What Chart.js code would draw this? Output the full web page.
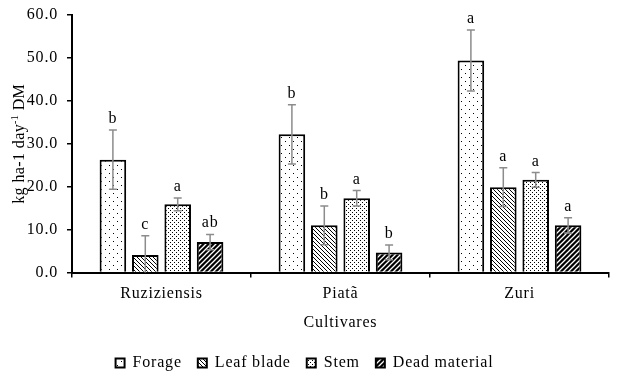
<!DOCTYPE html>
<html>
<head>
<meta charset="utf-8">
<script src="https://cdn.jsdelivr.net/npm/chart.js@4.4.0/dist/chart.umd.min.js"></script>
<style>
  html, body { margin: 0; padding: 0; background: #fff; }
  #wrap { width: 622px; height: 381px; }
</style>
</head>
<body>
<div id="wrap"><canvas id="chart"></canvas></div>
<script>
const cultivars = ['Ruziziensis', 'Piatã', 'Zuri'];
const seriesNames = ['Forage', 'Leaf blade', 'Stem', 'Dead material'];

const forage = [26.3, 32.2, 49.4];
const leafBlade = [4.1, 11.0, 19.9];
const stem = [15.9, 17.3, 21.6];
const deadMaterial = [7.1, 4.7, 11.0];

const forageErr = [6.9, 6.9, 7.1];
const leafBladeErr = [4.5, 4.5, 4.5];
const stemErr = [1.5, 1.8, 1.7];
const deadMaterialErr = [1.8, 1.7, 1.8];

const forageLetters = ['b', 'b', 'a'];
const leafBladeLetters = ['c', 'b', 'a'];
const stemLetters = ['a', 'a', 'a'];
const deadMaterialLetters = ['ab', 'b', 'a'];

const yTicks = [0, 10, 20, 30, 40, 50, 60];

const FONT = '"Liberation Serif", "Times New Roman", serif';
const SPACING = '0.8px';

// fill patterns
function makePattern(size, draw) {
    const c = document.createElement('canvas');
    c.width = size; c.height = size;
    const g = c.getContext('2d');
    draw(g, size);
    return document.getElementById('chart').getContext('2d').createPattern(c, 'repeat');
}

const sparseDots = makePattern(8, (g) => {
    g.fillStyle = '#fff'; g.fillRect(0, 0, 8, 8);
    g.fillStyle = '#000';
    g.fillRect(1, 1, 1, 1);
    g.fillRect(5, 5, 1, 1);
});
const backLines = makePattern(4, (g) => {
    g.fillStyle = '#fff'; g.fillRect(0, 0, 4, 4);
    g.strokeStyle = '#000'; g.lineWidth = 1;
    g.beginPath();
    g.moveTo(-1, -1); g.lineTo(5, 5);
    g.moveTo(-1, 3); g.lineTo(1, 5);
    g.moveTo(3, -1); g.lineTo(5, 1);
    g.stroke();
});
const denseDots = makePattern(4, (g) => {
    g.fillStyle = '#fff'; g.fillRect(0, 0, 4, 4);
    g.fillStyle = '#000';
    g.fillRect(0, 0, 1, 1);
    g.fillRect(2, 2, 1, 1);
});
const darkLines = makePattern(5, (g) => {
    g.fillStyle = '#000'; g.fillRect(0, 0, 5, 5);
    g.strokeStyle = '#fff'; g.lineWidth = 1.3;
    g.beginPath();
    g.moveTo(-1, 6); g.lineTo(6, -1);
    g.moveTo(-1, 1); g.lineTo(1, -1);
    g.moveTo(4, 6); g.lineTo(6, 4);
    g.stroke();
});

function series(label, data, errors, letters, fill) {
    return {
        label: label,
        data: data,
        errors: errors,
        letters: letters,
        backgroundColor: fill,
        borderColor: '#000',
        borderWidth: 2,
        categoryPercentage: 0.724,
        barPercentage: 0.82
    };
}

// the reference text is set a bit wide, so add some letter spacing
const wideText = {
    id: 'wideText',
    beforeUpdate(chart) { chart.ctx.letterSpacing = SPACING; },
    beforeDraw(chart) { chart.ctx.letterSpacing = SPACING; }
};

const errorBars = {
    id: 'errorBars',
    afterDatasetsDraw(chart) {
        const ctx = chart.ctx;
        const y = chart.scales.y;
        chart.data.datasets.forEach((ds, di) => {
            chart.getDatasetMeta(di).data.forEach((bar, i) => {
                const v = ds.data[i], e = ds.errors[i];
                const top = y.getPixelForValue(v + e);
                const lowVal = v - e;
                const bot = y.getPixelForValue(Math.max(lowVal, 0));
                ctx.save();
                ctx.strokeStyle = '#8c8c8c';
                ctx.lineWidth = 1.5;
                ctx.beginPath();
                ctx.moveTo(bar.x, top); ctx.lineTo(bar.x, bot);
                ctx.moveTo(bar.x - 4, top); ctx.lineTo(bar.x + 4, top);
                if (lowVal > 0) {
                    ctx.moveTo(bar.x - 4, bot); ctx.lineTo(bar.x + 4, bot);
                }
                ctx.stroke();
                ctx.fillStyle = '#000';
                ctx.font = '16px ' + FONT;
                ctx.textAlign = 'center';
                ctx.textBaseline = 'alphabetic';
                ctx.fillText(ds.letters[i], bar.x, top - 7);
                ctx.restore();
            });
        });
    }
};

// y title with superscript
const yTitle = {
    id: 'yTitle',
    afterDraw(chart) {
        const ctx = chart.ctx;
        const a = chart.chartArea;
        const parts = [['kg ha-1 day', 16, 0], ['-1', 10, -6], [' DM', 16, 0]];
        ctx.save();
        ctx.letterSpacing = '0.4px';
        let total = 0;
        parts.forEach(p => { ctx.font = p[1] + 'px ' + FONT; total += ctx.measureText(p[0]).width; });
        ctx.translate(19, (a.top + a.bottom) / 2);
        ctx.rotate(-Math.PI / 2);
        ctx.fillStyle = '#000';
        ctx.textBaseline = 'alphabetic';
        let x = -total / 2;
        parts.forEach(p => {
            ctx.font = p[1] + 'px ' + FONT;
            ctx.fillText(p[0], x, 5 + p[2]);
            x += ctx.measureText(p[0]).width;
        });
        ctx.restore();
    }
};

new Chart(document.getElementById('chart'), {
    type: 'bar',
    data: {
        labels: cultivars,
        datasets: [
            series(seriesNames[0], forage, forageErr, forageLetters, sparseDots),
            series(seriesNames[1], leafBlade, leafBladeErr, leafBladeLetters, backLines),
            series(seriesNames[2], stem, stemErr, stemLetters, denseDots),
            series(seriesNames[3], deadMaterial, deadMaterialErr, deadMaterialLetters, darkLines)
        ]
    },
    options: {
        responsive: true,
        maintainAspectRatio: false,
        animation: false,
        layout: { padding: { top: 15, right: 13, left: 0, bottom: 0 } },
        plugins: {
            tooltip: { enabled: false },
            legend: {
                position: 'bottom',
                labels: {
                    color: '#000',
                    font: { family: FONT, size: 16 },
                    boxWidth: 9,
                    boxHeight: 9,
                    padding: 16
                }
            }
        },
        scales: {
            x: {
                grid: { display: true, drawOnChartArea: false, drawTicks: true, tickLength: 5, color: '#000', lineWidth: 1.5 },
                border: { display: true, color: '#000', width: 2 },
                ticks: { color: '#000', font: { family: FONT, size: 16 }, padding: 7 },
                title: { display: true, text: 'Cultivares', color: '#000', font: { family: FONT, size: 16 }, padding: { top: 2, bottom: 7 } }
            },
            y: {
                min: 0,
                max: 60,
                afterFit: (s) => { s.width = 72; s.paddingTop = 0; s.paddingBottom = 0; },
                afterBuildTicks: (s) => { s.ticks = yTicks.map(v => ({ value: v })); },
                grid: { display: true, drawOnChartArea: false, drawTicks: true, tickLength: 5, color: '#000', lineWidth: 1.5 },
                border: { display: true, color: '#000', width: 2 },
                ticks: { color: '#000', font: { family: FONT, size: 16 }, padding: 9, callback: (v) => Number(v).toFixed(1) }
            }
        }
    },
    plugins: [wideText, errorBars, yTitle]
});
</script>
</body>
</html>
